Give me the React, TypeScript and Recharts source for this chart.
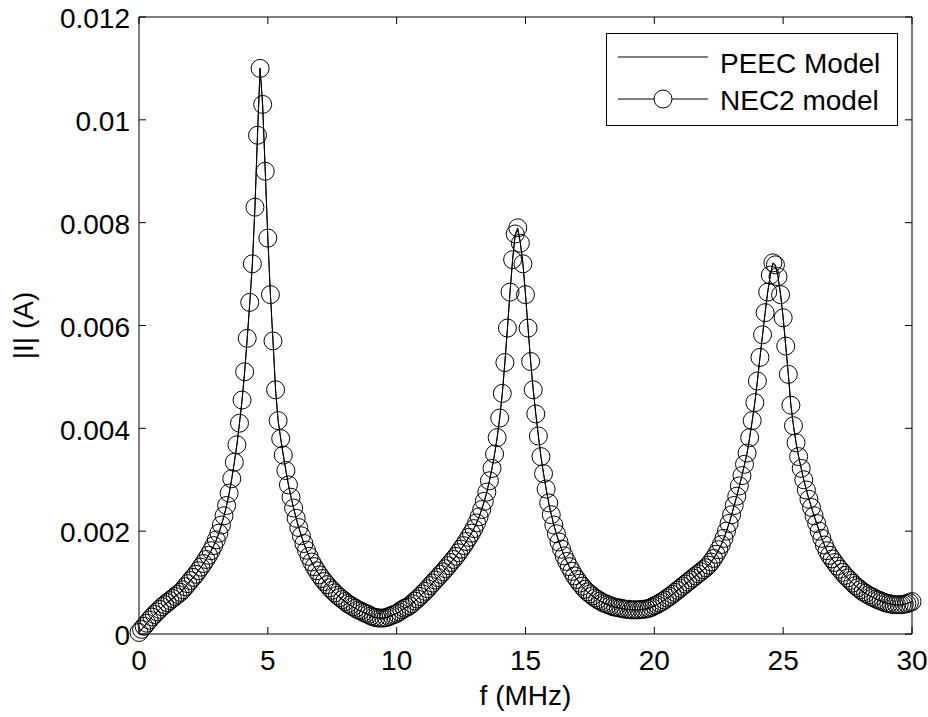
import React from "react";
import { LineChart, Line, XAxis, YAxis, ReferenceArea, Legend } from "recharts";

// sweep: 0 .. 30 MHz, one sample every 0.1 MHz
const FREQ_STEP_MHZ = 0.1;

const X_TICKS = [0, 5, 10, 15, 20, 25, 30];
const Y_TICKS = [0, 0.002, 0.004, 0.006, 0.008, 0.01, 0.012];

const LEGEND_ORDER = ["peec", "nec2"];

// |I| in mA
const NEC2_MA = [
  0.03, 0.09, 0.15, 0.21, 0.27, 0.33, 0.38, 0.43, 0.48, 0.53,
  0.57, 0.61, 0.65, 0.69, 0.73, 0.77, 0.81, 0.86, 0.92, 0.98,
  1.04, 1.1, 1.16, 1.23, 1.3, 1.37, 1.45, 1.53, 1.62, 1.72,
  1.83, 1.96, 2.12, 2.3, 2.5, 2.74, 3.02, 3.34, 3.68, 4.1,
  4.55, 5.1, 5.75, 6.45, 7.2, 8.3, 9.7, 11.0, 10.3, 9.0,
  7.7, 6.6, 5.7, 4.75, 4.15, 3.8, 3.48, 3.18, 2.9, 2.66,
  2.45, 2.25, 2.07, 1.91, 1.76, 1.63, 1.51, 1.4, 1.31, 1.23,
  1.15, 1.08, 1.02, 0.96, 0.9, 0.85, 0.8, 0.75, 0.71, 0.67,
  0.63, 0.59, 0.56, 0.53, 0.5, 0.47, 0.45, 0.42, 0.4, 0.38,
  0.35, 0.33, 0.32, 0.31, 0.31, 0.31, 0.32, 0.34, 0.36, 0.38,
  0.4, 0.43, 0.47, 0.5, 0.52, 0.55, 0.59, 0.64, 0.68, 0.73,
  0.78, 0.83, 0.88, 0.94, 0.99, 1.05, 1.1, 1.16, 1.21, 1.27,
  1.33, 1.39, 1.45, 1.51, 1.58, 1.65, 1.72, 1.8, 1.88, 1.96,
  2.05, 2.16, 2.28, 2.42, 2.58, 2.76, 2.98, 3.22, 3.5, 3.82,
  4.2, 4.68, 5.28, 5.95, 6.65, 7.28, 7.78, 7.9, 7.6, 7.2,
  6.6, 5.95, 5.3, 4.75, 4.28, 3.85, 3.45, 3.12, 2.82, 2.55,
  2.32, 2.12, 1.95, 1.79, 1.65, 1.52, 1.41, 1.31, 1.22, 1.13,
  1.06, 0.99, 0.93, 0.87, 0.82, 0.78, 0.74, 0.7, 0.67, 0.64,
  0.61, 0.59, 0.57, 0.55, 0.53, 0.52, 0.51, 0.5, 0.49, 0.48,
  0.48, 0.47, 0.47, 0.47, 0.47, 0.48, 0.48, 0.49, 0.5, 0.52,
  0.55, 0.57, 0.6, 0.63, 0.66, 0.7, 0.73, 0.77, 0.81, 0.85,
  0.89, 0.93, 0.97, 1.01, 1.05, 1.09, 1.13, 1.17, 1.21, 1.25,
  1.29, 1.34, 1.4, 1.47, 1.55, 1.64, 1.74, 1.86, 2.0, 2.15,
  2.32, 2.5, 2.68, 2.88, 3.08, 3.3, 3.52, 3.82, 4.15, 4.5,
  4.92, 5.38, 5.82, 6.25, 6.65, 6.98, 7.22, 7.18, 6.95, 6.6,
  6.15, 5.6, 5.05, 4.45, 4.05, 3.72, 3.45, 3.22, 3.0, 2.8,
  2.62, 2.46, 2.3, 2.15, 2.0, 1.86, 1.73, 1.62, 1.53, 1.46,
  1.39, 1.32, 1.26, 1.2, 1.14, 1.09, 1.04, 0.99, 0.94, 0.9,
  0.86, 0.82, 0.79, 0.76, 0.73, 0.71, 0.68, 0.66, 0.64, 0.62,
  0.6, 0.59, 0.58, 0.57, 0.57, 0.57, 0.57, 0.58, 0.59, 0.61,
  0.63,
];

const PEEC_MA = [
  0.03, 0.09, 0.15, 0.21, 0.27, 0.33, 0.38, 0.43, 0.48, 0.53,
  0.57, 0.61, 0.65, 0.69, 0.73, 0.77, 0.81, 0.86, 0.92, 0.98,
  1.04, 1.1, 1.16, 1.23, 1.3, 1.37, 1.45, 1.53, 1.62, 1.72,
  1.83, 1.96, 2.12, 2.3, 2.5, 2.74, 3.02, 3.34, 3.68, 4.1,
  4.55, 5.1, 5.75, 6.45, 7.2, 8.3, 9.75, 11.0, 10.25, 9.0,
  7.7, 6.6, 5.7, 4.75, 4.15, 3.8, 3.48, 3.18, 2.9, 2.66,
  2.45, 2.25, 2.07, 1.91, 1.76, 1.63, 1.51, 1.4, 1.31, 1.23,
  1.15, 1.08, 1.02, 0.96, 0.9, 0.85, 0.8, 0.75, 0.71, 0.67,
  0.63, 0.59, 0.56, 0.53, 0.5, 0.47, 0.45, 0.42, 0.4, 0.38,
  0.35, 0.33, 0.32, 0.31, 0.31, 0.31, 0.32, 0.34, 0.36, 0.38,
  0.4, 0.43, 0.47, 0.5, 0.52, 0.55, 0.59, 0.64, 0.68, 0.73,
  0.78, 0.83, 0.88, 0.94, 0.99, 1.05, 1.1, 1.16, 1.21, 1.27,
  1.33, 1.39, 1.45, 1.51, 1.58, 1.65, 1.72, 1.8, 1.88, 1.96,
  2.05, 2.16, 2.28, 2.42, 2.58, 2.76, 2.98, 3.22, 3.5, 3.82,
  4.2, 4.68, 5.28, 5.95, 6.65, 7.28, 7.75, 7.86, 7.62, 7.2,
  6.6, 5.95, 5.3, 4.75, 4.28, 3.85, 3.45, 3.12, 2.82, 2.55,
  2.32, 2.12, 1.95, 1.79, 1.65, 1.52, 1.41, 1.31, 1.22, 1.13,
  1.06, 0.99, 0.93, 0.87, 0.82, 0.78, 0.74, 0.7, 0.67, 0.64,
  0.61, 0.59, 0.57, 0.55, 0.53, 0.52, 0.51, 0.5, 0.49, 0.48,
  0.48, 0.47, 0.47, 0.47, 0.47, 0.48, 0.48, 0.49, 0.5, 0.52,
  0.55, 0.57, 0.6, 0.63, 0.66, 0.7, 0.73, 0.77, 0.81, 0.85,
  0.89, 0.93, 0.97, 1.01, 1.05, 1.09, 1.13, 1.17, 1.21, 1.25,
  1.29, 1.34, 1.4, 1.47, 1.55, 1.64, 1.74, 1.86, 2.0, 2.15,
  2.32, 2.5, 2.68, 2.88, 3.08, 3.3, 3.52, 3.82, 4.15, 4.5,
  4.92, 5.38, 5.82, 6.25, 6.65, 6.98, 7.2, 7.16, 6.95, 6.6,
  6.15, 5.6, 5.05, 4.45, 4.05, 3.72, 3.45, 3.22, 3.0, 2.8,
  2.62, 2.46, 2.3, 2.15, 2.0, 1.86, 1.73, 1.62, 1.53, 1.46,
  1.39, 1.32, 1.26, 1.2, 1.14, 1.09, 1.04, 0.99, 0.94, 0.9,
  0.86, 0.82, 0.79, 0.76, 0.73, 0.71, 0.68, 0.66, 0.64, 0.62,
  0.6, 0.59, 0.58, 0.57, 0.57, 0.57, 0.57, 0.58, 0.59, 0.61,
  0.63,
];

const data = NEC2_MA.map((v, i) => ({
  f: Math.round(i * FREQ_STEP_MHZ * 10) / 10,
  nec2: v / 1000,
  peec: PEEC_MA[i] / 1000,
}));

// layout (matlab-ish figure)
const W = 928;
const H = 717;
const PLOT_LEFT = 139;
const PLOT_TOP = 17;
const PLOT_RIGHT = 912;
const PLOT_BOTTOM = 634;
const PLOT_W = PLOT_RIGHT - PLOT_LEFT;
const PLOT_H = PLOT_BOTTOM - PLOT_TOP;
const TICK_LEN = 7;
const FONT = "'Liberation Sans', Arial, Helvetica, sans-serif";
const FONT_SIZE = 28;

function XTick({ x, y, payload }: any) {
  return (
    <g>
      <line x1={x} y1={y} x2={x} y2={y - TICK_LEN} stroke="#000" />
      <line x1={x} y1={y - PLOT_H} x2={x} y2={y - PLOT_H + TICK_LEN} stroke="#000" />
      <text
        x={x}
        y={y + 16}
        dy="0.71em"
        textAnchor="middle"
        fontFamily={FONT}
        fontSize={FONT_SIZE}
        fill="#000"
      >
        {String(payload.value)}
      </text>
    </g>
  );
}

function YTick({ x, y, payload }: any) {
  return (
    <g>
      <line x1={x} y1={y} x2={x + TICK_LEN} y2={y} stroke="#000" />
      <line x1={x + PLOT_W} y1={y} x2={x + PLOT_W - TICK_LEN} y2={y} stroke="#000" />
      <text
        x={x - 9}
        y={y}
        dy="0.4em"
        textAnchor="end"
        fontFamily={FONT}
        fontSize={FONT_SIZE}
        fill="#000"
      >
        {String(payload.value)}
      </text>
    </g>
  );
}

function LegendBox({ payload }: any) {
  const items = [...(payload || [])].sort(
    (a: any, b: any) => LEGEND_ORDER.indexOf(a.dataKey) - LEGEND_ORDER.indexOf(b.dataKey)
  );
  return (
    <svg width={292} height={93} style={{ display: "block" }}>
      <rect x={0.5} y={0.5} width={291} height={92} fill="#fff" stroke="#000" />
      {items.map((item: any, i: number) => {
        const lineY = i === 0 ? 24 : 66;
        const textY = i === 0 ? 40 : 77;
        return (
          <g key={item.value}>
            <line x1={12} y1={lineY} x2={102} y2={lineY} stroke="#000" />
            {item.dataKey === "nec2" && (
              <circle cx={57} cy={lineY} r={9} fill="#fff" stroke="#000" />
            )}
            <text x={114} y={textY} fontFamily={FONT} fontSize={FONT_SIZE} fill="#000">
              {item.value}
            </text>
          </g>
        );
      })}
    </svg>
  );
}

export default function App() {
  return (
    <div style={{ position: "absolute", left: 0, top: 0, width: W, height: H, background: "#fff" }}>
      <LineChart
        width={W}
        height={H}
        data={data}
        margin={{ top: PLOT_TOP, right: W - PLOT_RIGHT, bottom: 0, left: 0 }}
      >
        <XAxis
          dataKey="f"
          type="number"
          domain={[0, 30]}
          ticks={X_TICKS}
          interval={0}
          height={H - PLOT_BOTTOM}
          axisLine={false}
          tickLine={false}
          tickSize={0}
          tickMargin={0}
          tick={<XTick />}
          label={{
            value: "f (MHz)",
            position: "insideBottom",
            offset: 12,
            fill: "#000",
            fontSize: FONT_SIZE,
            fontFamily: FONT,
          }}
        />
        <YAxis
          type="number"
          domain={[0, 0.012]}
          ticks={Y_TICKS}
          interval={0}
          width={PLOT_LEFT}
          axisLine={false}
          tickLine={false}
          tickSize={0}
          tickMargin={0}
          tick={<YTick />}
          label={{
            content: ({ viewBox }: any) => {
              const cx = (viewBox?.x ?? 0) + 33;
              const cy = (viewBox?.y ?? PLOT_TOP) + (viewBox?.height ?? PLOT_H) / 2;
              return (
                <text
                  x={cx}
                  y={cy}
                  transform={`rotate(-90 ${cx} ${cy})`}
                  textAnchor="middle"
                  fontFamily={FONT}
                  fontSize={FONT_SIZE}
                  fill="#000"
                >
                  |I| (A)
                </text>
              );
            },
          }}
        />
        <ReferenceArea
          x1={0}
          x2={30}
          y1={0}
          y2={0.012}
          fill="none"
          fillOpacity={0}
          stroke="#000"
          strokeWidth={1}
          strokeOpacity={1}
        />
        <Line
          dataKey="peec"
          name="PEEC Model"
          type="linear"
          stroke="#000"
          strokeWidth={1}
          dot={false}
          activeDot={false}
          isAnimationActive={false}
        />
        <Line
          dataKey="nec2"
          name="NEC2 model"
          type="linear"
          stroke="#000"
          strokeWidth={1}
          dot={{ r: 9, stroke: "#000", strokeWidth: 1, fill: "none" }}
          activeDot={false}
          isAnimationActive={false}
        />
        <Legend
          layout="horizontal"
          verticalAlign="middle"
          align="center"
          wrapperStyle={{ left: 606, top: 33, width: 292, height: 93 }}
          content={<LegendBox />}
        />
      </LineChart>
    </div>
  );
}
